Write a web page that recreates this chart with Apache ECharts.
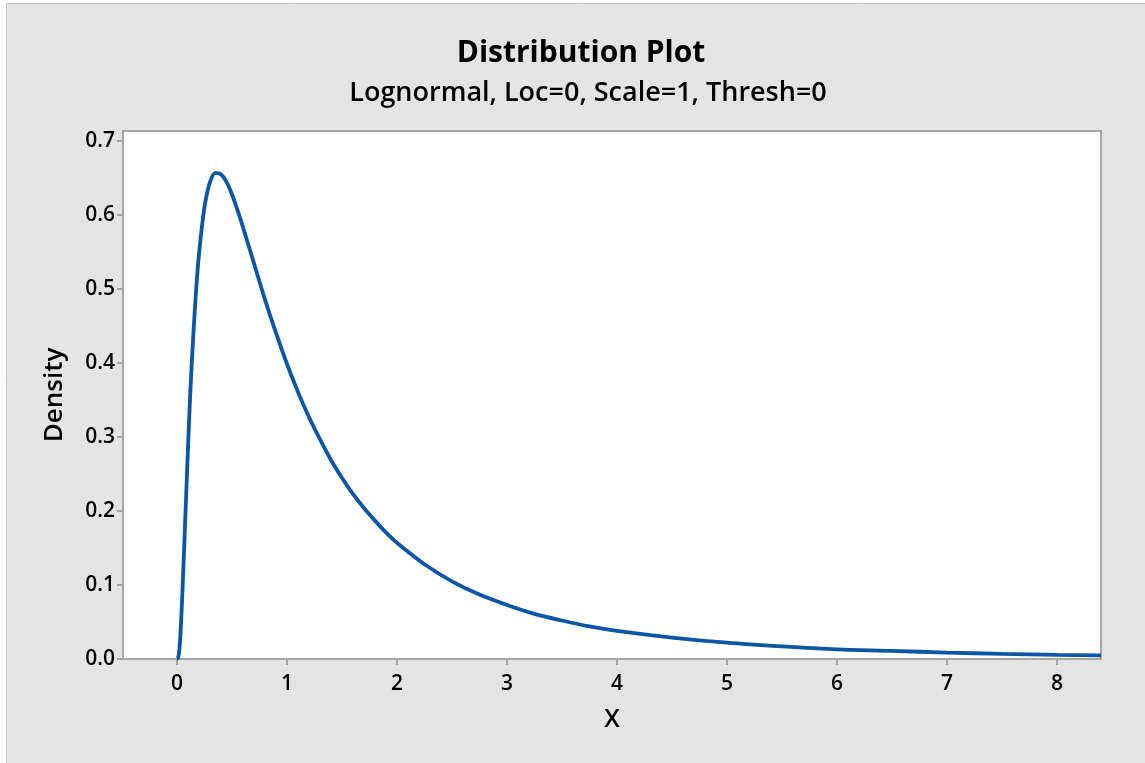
<!DOCTYPE html>
<html>
<head>
<meta charset="utf-8">
<script src="https://cdn.jsdelivr.net/npm/echarts@6/dist/echarts.min.js"></script>
<style>
html,body{margin:0;padding:0;background:#ffffff;}
#chart{width:1145px;height:763px;}
</style>
</head>
<body>
<div id="chart"></div>
<script>
const titleText = 'Distribution Plot';
const subtitleText = 'Lognormal, Loc=0, Scale=1, Thresh=0';
const xName = 'X';
const yName = 'Density';
const xTicks = [0, 1, 2, 3, 4, 5, 6, 7, 8];
const yTicks = [0.0, 0.1, 0.2, 0.3, 0.4, 0.5, 0.6, 0.7];
const xValues = [0, 0.01, 0.02, 0.03, 0.04, 0.05, 0.06, 0.07, 0.08, 0.09, 0.10, 0.12, 0.15, 0.175, 0.20, 0.25, 0.30, 0.35, 0.40, 0.45, 0.50, 0.55, 0.60, 0.70, 0.80, 0.90, 1.0, 1.1, 1.2, 1.3, 1.4, 1.5, 1.6, 1.7, 1.8, 1.9, 2.0, 2.25, 2.5, 2.75, 3.0, 3.25, 3.5, 3.75, 4.0, 4.5, 5.0, 5.5, 6.0, 6.5, 7.0, 7.5, 8.0, 8.4];
const densityValues = [0, 0.001, 0.0095, 0.028, 0.056, 0.090, 0.127, 0.166, 0.205, 0.244, 0.282, 0.355, 0.440, 0.499, 0.546, 0.610, 0.644, 0.657, 0.655, 0.645, 0.628, 0.607, 0.584, 0.535, 0.486, 0.441, 0.399, 0.361, 0.327, 0.297, 0.269, 0.245, 0.223, 0.204, 0.187, 0.171, 0.157, 0.128, 0.105, 0.087, 0.073, 0.061, 0.052, 0.044, 0.038, 0.029, 0.022, 0.017, 0.013, 0.011, 0.0086, 0.0070, 0.0057, 0.0049];

const seriesData = xValues.map((x, i) => [x, densityValues[i]]);
const font = '"Open Sans", "Noto Sans", sans-serif';

const chart = echarts.init(document.getElementById('chart'), null, {renderer: 'canvas'});
chart.setOption({
  backgroundColor: '#ffffff',
  animation: false,
  graphic: [
    {type: 'rect', z: -10, shape: {x: 6.5, y: 3.5, width: 1200, height: 800},
     style: {fill: '#e4e4e4', stroke: '#c6c6c6', lineWidth: 1}},
    {type: 'text', z: 10, style: {text: titleText, x: 581, y: 53, textAlign: 'center', textVerticalAlign: 'middle',
      font: 'bold 30px ' + font, fill: '#000'}},
    {type: 'text', z: 10, style: {text: subtitleText, x: 588, y: 93, textAlign: 'center', textVerticalAlign: 'middle',
      font: '600 27px ' + font, fill: '#000'}}
  ],
  grid: {left: 123, top: 131, right: 44, bottom: 104, show: true, backgroundColor: '#ffffff',
    borderColor: '#a6a6a6', borderWidth: 2},
  xAxis: {
    type: 'value', min: -0.49, max: 8.4,
    name: xName, nameLocation: 'middle', nameGap: 48,
    nameTextStyle: {fontFamily: font, fontSize: 25, fontWeight: 600, color: '#000'},
    axisLine: {show: true, onZero: false, lineStyle: {color: '#a6a6a6', width: 2}},
    axisTick: {show: true, length: 6, customValues: xTicks, lineStyle: {color: '#a6a6a6', width: 2}},
    axisLabel: {customValues: xTicks, fontFamily: font, fontSize: 21, fontWeight: 600, color: '#000', margin: 15,
      formatter: v => String(v)},
    splitLine: {show: false}
  },
  yAxis: {
    type: 'value', min: 0, max: 0.7135,
    name: yName, nameLocation: 'middle', nameGap: 55, nameRotate: 90,
    nameTextStyle: {fontFamily: font, fontSize: 26, fontWeight: 600, color: '#000'},
    axisLine: {show: true, onZero: false, lineStyle: {color: '#a6a6a6', width: 2}},
    axisTick: {show: true, length: 6, customValues: yTicks, lineStyle: {color: '#a6a6a6', width: 2}},
    axisLabel: {customValues: yTicks, fontFamily: font, fontSize: 21, fontWeight: 600, color: '#000', margin: 8,
      formatter: v => v.toFixed(1)},
    splitLine: {show: false}
  },
  series: [{
    type: 'line', data: seriesData, showSymbol: false, smooth: 0.3, clip: true,
    lineStyle: {color: '#0b56a7', width: 3.8}
  }]
});
</script>
</body>
</html>
